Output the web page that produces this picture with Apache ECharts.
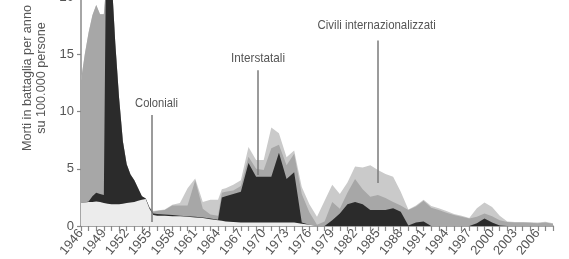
<!DOCTYPE html>
<html><head><meta charset="utf-8">
<script src="https://cdn.jsdelivr.net/npm/echarts@6/dist/echarts.min.js"></script>
<style>html,body{margin:0;padding:0;background:#fff}#c{width:569px;height:259px}</style>
</head><body><div id="c"></div>
<script>
// Sample years (half-year steps where the shape changes fast)
const years = [1946,1946.5,1947,1947.5,1948,1948.5,1949,1949.25,1949.5,1950,1950.5,1951,1951.5,1952,1952.5,1953,1953.5,1954,1954.5,1955,1955.5,1956,
  1957,1958,1959,1960,1961,1962,1963,1964,1964.5,1965,1966,1967,1968,1969,1970,1971,1972,1973,1974,1975,1976,1977,1978,1979,1980,
  1981,1982,1983,1984,1985,1986,1987,1988,1989,1990,1991,1992,1993,1994,1995,1996,1997,1998,1999,2000,2001,2002,2003,2004,2005,2006,2007,2008];
// Battle deaths per 100,000 per year, by war type
const coloniali = [2.0,2.05,2.1,2.1,2.15,2.1,2.0,2.0,1.95,1.9,1.9,1.9,1.95,2.0,2.05,2.1,2.2,2.3,2.35,1.5,0.95,0.9,
  0.9,0.85,0.85,0.8,0.75,0.7,0.6,0.5,0.45,0.4,0.35,0.3,0.3,0.3,0.3,0.3,0.3,0.3,0.3,0.2,0.1,0,0,0,0,
  0,0,0,0,0,0,0,0,0,0,0,0,0,0,0,0,0,0,0,0,0,0,0,0,0,0,0,0];
const interstatali = [0,0,0.05,0.5,0.75,0.7,0.7,18.5,20.05,20.1,14.1,9.3,5.45,3.4,2.45,1.9,1.1,0.3,0.05,0.1,0.15,0.15,
  0.1,0.1,0.05,0.05,0.05,0.05,0.05,0.05,2.05,2.2,2.45,2.7,5.2,4.0,4.0,4.0,6.1,3.8,4.4,0.1,0,0,0,0.5,1.1,
  1.9,2.1,1.9,1.4,1.4,1.4,1.55,1.25,0.05,0.3,0.4,0,0,0,0,0,0,0.25,0.65,0.3,0.05,0,0,0,0,0,0,0];
const civili = [10.7,12.95,14.75,15.8,16.4,15.7,15.8,0,0,0,0,0,0,0,0,0,0,0,0,0,0.15,0.25,
  0.4,0.85,0.9,0.95,3.2,0.75,0.35,0.35,0.4,0.4,0.3,0.5,0.55,0.7,0.6,2.5,0.7,1.2,1.6,2.5,1.1,0.1,0.4,1.6,0.4,
  1.0,2.0,1.3,1.15,1.3,1.05,0.55,0.55,1.35,1.4,1.8,1.6,1.4,1.15,0.95,0.8,0.65,0.55,0.45,0.55,0.45,0.35,0.3,0.3,0.28,0.25,0.3,0.2];
const civiliInternazionalizzati = [0,0,0,0,0,0,0,0,0,0,0,0,0,0,0,0,0,0,0,0.05,0.05,0.05,
  0.05,0.05,0.2,1.5,0.15,0.6,1.3,1.4,0.3,0.3,0.5,0.5,0.85,0.76,0.86,1.8,1.0,0.7,0.3,0.6,0.7,0.7,1.8,1.5,1.3,
  0.9,1.1,1.9,2.75,2.2,2.1,2.2,1.2,0.05,0.1,0.1,0.15,0.15,0.15,0.1,0.1,0.05,0.75,0.95,0.8,0.4,0.05,0.05,0.05,0.04,0.05,0.08,0.05];
const yTicks = [0,5,10,15,20];
const labelYears = [1946,1949,1952,1955,1958,1961,1964,1967,1970,1973,1976,1979,1982,1985,1988,1991,1994,1997,2000,2003,2006];
// Annotation pointers: [year, from value, to value]
const pointers = [[1948.7,17.6,20.6],[1955.3,0.35,9.7],[1969.16,4.45,13.6],[1984.92,3.75,16.2]];

const FONT = '"Liberation Sans",Arial,sans-serif';
// stack the layers (bottom -> top) into cumulative tops
const layers = [
  {name:'Coloniali', vals:coloniali, color:'#ececec'},
  {name:'Interstatali', vals:interstatali, color:'#2b2b2b'},
  {name:'Civili', vals:civili, color:'#a7a7a7'},
  {name:'Civili internazionalizzati', vals:civiliInternazionalizzati, color:'#cacaca'}
];
const run = years.map(()=>0);
layers.forEach(l=>{ l.cum = l.vals.map((v,i)=> (run[i] += v)); });
const areaSeries = layers.slice().reverse().map(l=>({
  name:l.name, type:'line', data:years.map((y,i)=>[y, +l.cum[i].toFixed(3)]), symbol:'none',
  lineStyle:{width:0, opacity:0}, areaStyle:{color:l.color, opacity:1, origin:'start'}, clip:true
}));
const chart = echarts.init(document.getElementById('c'), null, {renderer:'canvas'});
chart.setOption({
  animation:false,
  backgroundColor:'#fff',
  grid:{left:81, right:16, top:-3, bottom:33, containLabel:false, outerBoundsMode:'none'},
  xAxis:{type:'value', min:1946, max:2008, interval:1,
    axisLine:{show:true, lineStyle:{color:'#888', width:1.5}},
    axisTick:{show:true, length:5, lineStyle:{color:'#888', width:1.2}},
    splitLine:{show:false},
    axisLabel:{rotate:50, margin:5, color:'#555', fontSize:13, fontFamily:FONT,
      formatter: v => labelYears.indexOf(v) >= 0 ? String(v) : ''}},
  yAxis:{type:'value', min:yTicks[0], max:yTicks[yTicks.length-1], interval:5,
    axisLine:{show:true, lineStyle:{color:'#888', width:1.5}},
    axisTick:{show:true, length:4, lineStyle:{color:'#888', width:1.2}},
    splitLine:{show:false},
    axisLabel:{color:'#555', fontSize:13, fontFamily:FONT, margin:7}},
  series: areaSeries.concat([
    {name:'pointers', type:'line', data:[], z:5,
      markLine:{silent:true, symbol:['none','none'], animation:false,
        label:{show:false}, lineStyle:{color:'#7a7a7a', width:1.5, type:'solid'},
        data: pointers.map(p=>[{coord:[p[0],p[1]]},{coord:[p[0],p[2]]}])}}
  ]),
  graphic:[
    {type:'text', x:34.5, y:78, rotation:Math.PI/2, scaleX:0.97, z:10,
      style:{text:'Morti in battaglia per anno\nsu 100.000 persone', fill:'#555', fontSize:13, fontFamily:FONT,
        align:'center', verticalAlign:'middle', lineHeight:14}},
    {type:'text', x:156.5, y:103, scaleX:0.86, z:10, style:{text:'Coloniali', fill:'#555', fontSize:13, fontFamily:FONT, align:'center', verticalAlign:'middle'}},
    {type:'text', x:258, y:58, scaleX:0.9, z:10, style:{text:'Interstatali', fill:'#555', fontSize:13, fontFamily:FONT, align:'center', verticalAlign:'middle'}},
    {type:'text', x:376.7, y:25, scaleX:0.88, z:10, style:{text:'Civili internazionalizzati', fill:'#555', fontSize:13, fontFamily:FONT, align:'center', verticalAlign:'middle'}}
  ]
});
</script></body></html>
